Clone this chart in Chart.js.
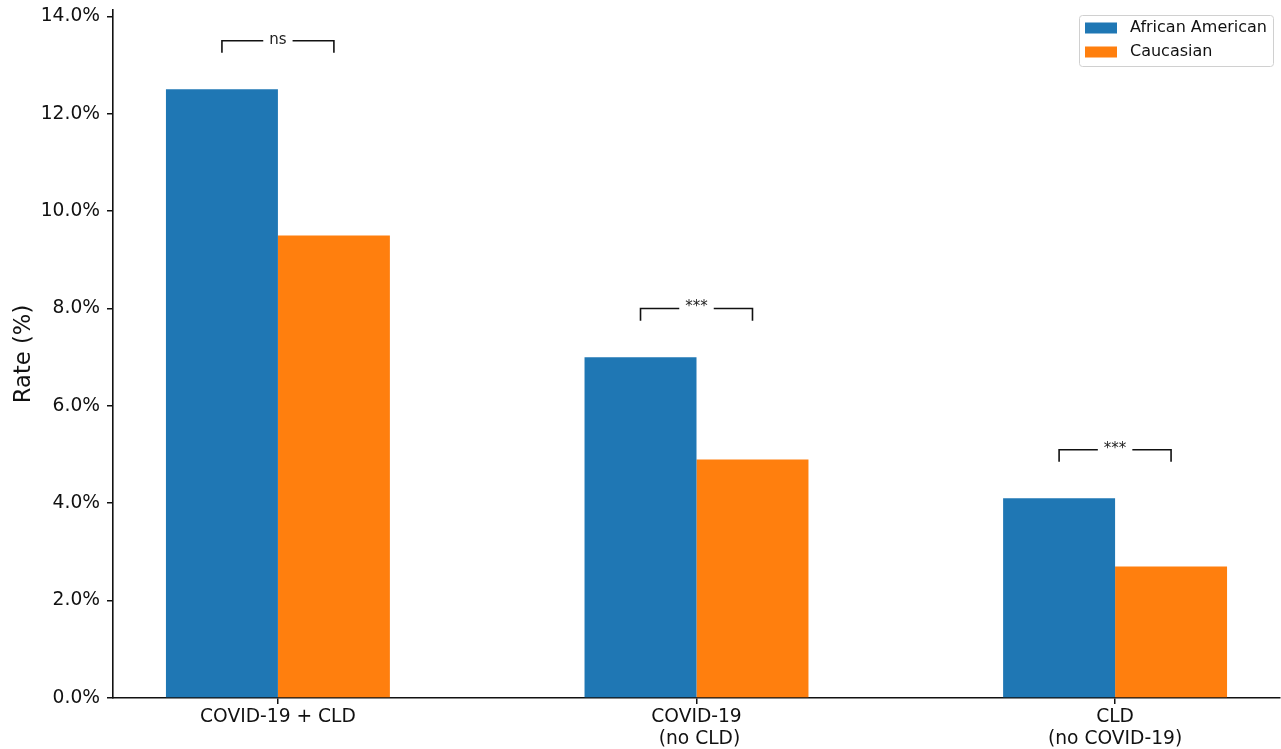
<!DOCTYPE html>
<html>
<head>
<meta charset="utf-8">
<script src="https://cdn.jsdelivr.net/npm/chart.js@4/dist/chart.umd.min.js"></script>
<style>
  body { margin: 0; background: #fff; }
  #wrap { width: 1281px; height: 749px; }
</style>
</head>
<body>
<div id="wrap"><canvas id="myChart" width="1281" height="749"></canvas></div>
<script>
const categories = [['COVID-19 + CLD'], ['COVID-19', ' (no CLD)'], ['CLD', '(no COVID-19)']]
const xPos = [0, 1, 2]
const africanAmerican = [12.5, 7.0, 4.1]
const caucasian = [9.5, 4.9, 2.7]
const sigLabels = ['ns', '***', '***']
const yTicks = [0, 2, 4, 6, 8, 10, 12, 14]

Chart.defaults.font.family = "'DejaVu Sans', sans-serif"
Chart.defaults.color = '#111'

// significance brackets drawn above each pair of bars
const brackets = {
  id: 'brackets',
  afterDatasetsDraw(chart) {
    const ctx = chart.ctx
    const y = chart.scales.y
    const m0 = chart.getDatasetMeta(0), m1 = chart.getDatasetMeta(1)
    ctx.save()
    ctx.strokeStyle = '#111'
    ctx.lineWidth = 1.6
    ctx.font = "15px 'DejaVu Sans'"
    ctx.fillStyle = '#222'
    ctx.textAlign = 'center'
    ctx.textBaseline = 'middle'
    for (let i = 0; i < sigLabels.length; i++) {
      const top = Math.max(africanAmerican[i], caucasian[i]) + 1.0
      const yt = y.getPixelForValue(top), yb = y.getPixelForValue(top - 0.25)
      const x1 = m0.data[i].x, x2 = m1.data[i].x, xm = (x1 + x2) / 2
      const half = ctx.measureText(sigLabels[i]).width / 2 + 6
      ctx.beginPath()
      ctx.moveTo(x1, yb); ctx.lineTo(x1, yt); ctx.lineTo(xm - half, yt)
      ctx.moveTo(xm + half, yt); ctx.lineTo(x2, yt); ctx.lineTo(x2, yb)
      ctx.stroke()
      ctx.fillText(sigLabels[i], xm, yt - 1)
    }
    ctx.restore()
  }
}

// matplotlib style legend box, top right
const boxLegend = {
  id: 'boxLegend',
  afterDraw(chart) {
    const ctx = chart.ctx
    const a = chart.chartArea
    const sets = chart.data.datasets
    ctx.save()
    ctx.font = "16px 'DejaVu Sans'"
    let tw = 0
    sets.forEach(d => { tw = Math.max(tw, ctx.measureText(d.label).width) })
    const w = 6 + 32 + 13 + tw + 6
    const h = 51
    const bx = a.right - 7 - w, by = 15
    ctx.fillStyle = 'rgba(255,255,255,0.8)'
    ctx.strokeStyle = '#d0d0d0'
    ctx.lineWidth = 1
    ctx.beginPath()
    ctx.roundRect(bx + 0.5, by + 0.5, w, h, 3)
    ctx.fill(); ctx.stroke()
    ctx.textBaseline = 'middle'
    sets.forEach((d, k) => {
      const cy = by + 13 + k * 24
      ctx.fillStyle = d.backgroundColor
      ctx.fillRect(bx + 6, cy - 5.5, 32, 11)
      ctx.fillStyle = '#111'
      ctx.fillText(d.label, bx + 51, cy)
    })
    ctx.restore()
  }
}

const config = {
  type: 'bar',
  data: {
    datasets: [{
      label: 'African American',
      backgroundColor: '#1f77b4',
      data: xPos.map((x, i) => ({ x: x, y: africanAmerican[i] })),
    }, {
      label: 'Caucasian',
      backgroundColor: '#ff7f0e',
      data: xPos.map((x, i) => ({ x: x, y: caucasian[i] })),
    }]
  },
  options: {
    responsive: false,
    animation: false,
    layout: { padding: { top: 10, right: 1, left: 0, bottom: 0 } },
    datasets: { bar: { categoryPercentage: 0.535, barPercentage: 1, borderWidth: 0 } },
    plugins: { legend: { display: false }, tooltip: { enabled: false } },
    scales: {
      x: {
        type: 'linear',
        offset: false,
        min: -0.394,
        max: 2.394,
        afterBuildTicks: s => { s.ticks = xPos.map(v => ({ value: v })) },
        afterFit: s => { s.height = 51; s.paddingLeft = 0; s.paddingRight = 0 },
        grid: { offset: false, drawOnChartArea: false, drawTicks: true, tickLength: 6, color: '#111', lineWidth: 1.5 },
        border: { display: true, color: '#111', width: 1.6 },
        ticks: {
          padding: 2,
          maxRotation: 0,
          autoSkip: false,
          font: { size: 18.67, lineHeight: 1.2 },
          callback: (v, i) => categories[i].length == 1 ? categories[i][0] : categories[i]
        }
      },
      y: {
        min: 0,
        max: 14.13,
        afterBuildTicks: s => { s.ticks = yTicks.map(v => ({ value: v })) },
        afterFit: s => { s.width = 113; s.paddingTop = 0; s.paddingBottom = 0 },
        grid: { drawOnChartArea: false, drawTicks: true, tickLength: 6, color: '#111', lineWidth: 1.5 },
        border: { display: true, color: '#111', width: 1.6 },
        ticks: {
          padding: 7,
          font: { size: 18.67 },
          callback: v => v.toFixed(1) + '%'
        },
        title: {
          display: true,
          text: 'Rate (%)',
          font: { size: 22.7 },
          padding: { top: 10, bottom: 0 }
        }
      }
    }
  },
  plugins: [brackets, boxLegend]
}

var myChart = new Chart(document.getElementById('myChart'), config)
</script>
</body>
</html>
